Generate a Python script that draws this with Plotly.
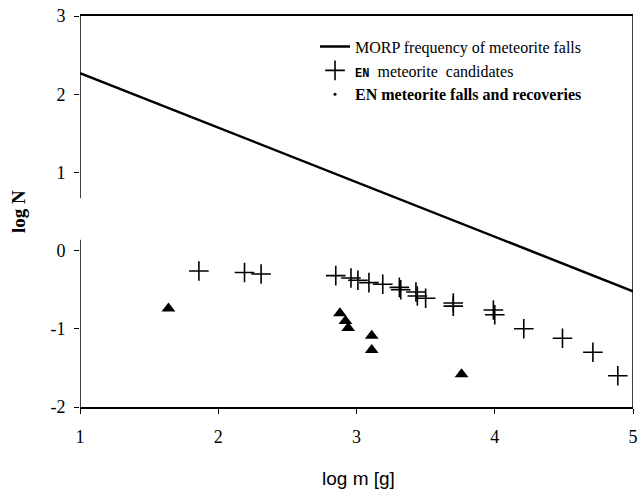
import plotly.graph_objects as go

# MORP frequency line (endpoints)
morp_x = [1, 5]
morp_y = [2.27, -0.52]

# EN meteorite candidates (+)
cand_x = [1.86, 2.19, 2.31, 2.85, 2.96, 3.01, 3.09, 3.19, 3.31, 3.32, 3.43, 3.44, 3.50,
          3.70, 3.70, 3.99, 4.00, 4.21, 4.49, 4.71, 4.89]
cand_y = [-0.26, -0.28, -0.30, -0.32, -0.35, -0.38, -0.41, -0.43, -0.47, -0.50, -0.53, -0.58, -0.61,
          -0.67, -0.71, -0.76, -0.82, -1.00, -1.12, -1.30, -1.60]

# EN meteorite falls and recoveries (triangles)
fall_x = [1.64, 2.88, 2.92, 2.94, 3.11, 3.11, 3.76]
fall_y = [-0.74, -0.80, -0.90, -0.99, -1.09, -1.27, -1.58]

x_ticks = [1, 2, 3, 4, 5]
y_ticks = [-2, -1, 0, 1, 2, 3]

serif = "Liberation Serif"

fig = go.Figure()
fig.add_trace(go.Scatter(
    x=morp_x, y=morp_y, mode="lines",
    line=dict(color="black", width=2.5),
    name="MORP frequency of meteorite falls"))
fig.add_trace(go.Scatter(
    x=cand_x, y=cand_y, mode="markers",
    marker=dict(symbol="cross-thin", size=14, color="black",
                line=dict(color="black", width=1.6)),
    name="<b><span style='font-size:12px;font-family:Liberation Mono'>EN</span></b>  meteorite  candidates"))
fig.add_trace(go.Scatter(
    x=[None], y=[None], mode="markers",
    marker=dict(symbol="circle", size=3, color="black"),
    name="<b>EN meteorite falls and recoveries</b>"))
fig.add_trace(go.Scatter(
    x=fall_x, y=fall_y, mode="markers",
    marker=dict(symbol="triangle-up", size=12, color="black"),
    showlegend=False))

line_style = dict(color="black", width=1.5)
# left axis (broken around the label), right axis
fig.add_shape(type="line", xref="x", yref="y", x0=1, x1=1, y0=3, y1=0.67, line=line_style)
fig.add_shape(type="line", xref="x", yref="y", x0=1, x1=1, y0=0.14, y1=-2, line=line_style)
fig.add_shape(type="line", xref="x", yref="y", x0=5, x1=5, y0=3, y1=-2, line=line_style)

fig.add_annotation(text="<b>log N</b>", xref="paper", yref="paper",
                   x=-0.111, y=0.5, xanchor="center", yanchor="middle",
                   textangle=-90, showarrow=False,
                   font=dict(family=serif, size=19, color="black"))
fig.add_annotation(text="log m [g]", xref="paper", yref="paper",
                   x=0.504, y=-0.182, xanchor="center", yanchor="middle", showarrow=False,
                   font=dict(family="Liberation Sans Narrow, Arial Narrow, Liberation Sans, sans-serif",
                             size=19, color="black"))

fig.update_layout(
    width=644, height=495,
    margin=dict(l=80, r=6, t=16, b=88),
    paper_bgcolor="white", plot_bgcolor="white",
    font=dict(family=serif, size=17, color="black"),
    showlegend=True,
    legend=dict(x=0.425, y=0.965, xanchor="left", yanchor="top",
                bgcolor="rgba(0,0,0,0)", font=dict(family=serif, size=16, color="black"),
                tracegroupgap=0),
    xaxis=dict(range=[1, 5], tickvals=x_ticks, ticktext=[str(v) for v in x_ticks],
               showgrid=False, zeroline=False, showline=True, mirror=True,
               linecolor="black", linewidth=1.5, ticks="outside", ticklen=5,
               ticklabelstandoff=8,
               tickcolor="black", tickfont=dict(family=serif, size=18, color="black")),
    yaxis=dict(range=[-2, 3], tickvals=y_ticks, ticktext=[str(v) for v in y_ticks],
               showgrid=False, zeroline=False, showline=False,
               ticks="outside", ticklen=5, tickcolor="black", ticklabelstandoff=5,
               tickfont=dict(family=serif, size=18, color="black")),
)

fig.write_html("out.html", config={"displayModeBar": False},
               post_script="document.body.style.margin='0';")
